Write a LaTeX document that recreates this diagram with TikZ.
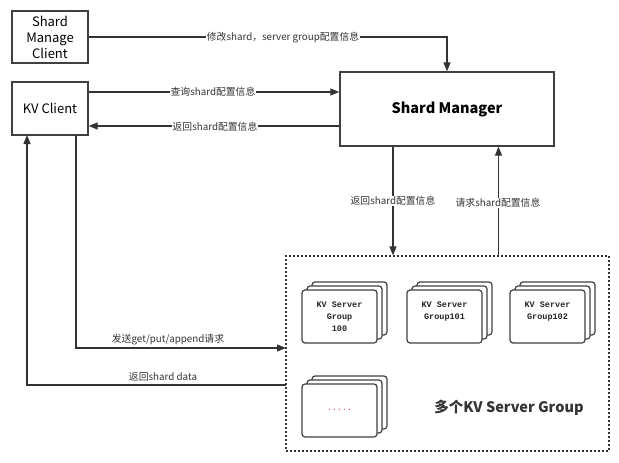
\documentclass[tikz,border=0pt]{standalone}
\usepackage{fontspec}
\setmainfont{Noto Sans CJK SC}
\newfontfamily\monob{Liberation Mono}
\usetikzlibrary{arrows.meta}
\definecolor{ln}{HTML}{333333}
\definecolor{bd}{HTML}{404040}
\tikzset{
  box/.style={draw=bd, line width=1.3pt, fill=white, align=center, inner sep=2pt},
  arr/.style={draw=ln, line width=1.3pt, -{Triangle[length=9pt,width=7pt]}},
  lbl/.style={fill=white, inner sep=0.5pt, font=\fontsize{9.8}{11}\selectfont, text=ln},
  card/.style={draw=bd, line width=1.2pt, fill=white, rounded corners=3pt},
  cardtxt/.style={font=\fontsize{8.5}{12}\selectfont\monob\bfseries, align=center, text=black!85},
  stack/.pic={\foreach \d in {2,1,0} \draw[card] (5*\d,-4*\d) rectangle ++(75,53);}
}
\begin{document}
\begin{tikzpicture}[x=1pt,y=-1pt]
\useasboundingbox (0,0) rectangle (619,463);
% boxes
\node[box, minimum width=76pt, minimum height=52pt, font=\fontsize{13}{16}\selectfont] (smc) at (50,37) {Shard\\Manage\\Client};
\node[box, minimum width=76pt, minimum height=53pt, font=\fontsize{13}{15}\selectfont] (kv) at (50,108.5) {KV Client};
\node[box, minimum width=214pt, minimum height=74pt, font=\fontsize{14.5}{16}\selectfont\bfseries] (sm) at (447,109) {Shard Manager};
\node[draw=ln, line width=1.2pt, dash pattern=on 2pt off 2pt, minimum width=323pt, minimum height=195pt, inner sep=0pt] (grp) at (447.5,353.5) {};
% stacks
\pic at (302,290) {stack};
\pic at (407,290) {stack};
\pic at (510,290) {stack};
\pic at (302,384) {stack};
\node[cardtxt] (g100) at (339.5,316.5) {KV Server\\Group\\100};
\node[cardtxt] (g101) at (444.5,311.5) {KV Server\\Group101};
\node[cardtxt] (g102) at (547.5,311.5) {KV Server\\Group102};
\node[cardtxt, text=purple!60] (gdots) at (339.5,410) {.....};
\node[font=\fontsize{14.5}{16}\selectfont\bfseries, text=ln] (multi) at (509,408) {多个KV Server Group};
% coordinates
\coordinate (a1) at (447,37);
\coordinate (s0) at (76,135);
\coordinate (s1) at (76,348);
\coordinate (s2) at (286,348);
\coordinate (r0) at (286,385);
\coordinate (r1) at (27,385);
\coordinate (r2) at (27,135);
% connectors
\draw[arr] (smc.east) -- (a1) -- (sm.north);
\node[lbl] (l1) at (283,37.5) {修改shard，server group配置信息};
\draw[arr] ([yshift=16.5pt]kv.east) -- ([yshift=16.5pt]kv.east -| sm.west);
\node[lbl] (l2) at (213,92) {查询shard配置信息};
\draw[arr] ([yshift=-17pt]sm.west) -- ([yshift=-17pt]sm.west -| kv.east);
\node[lbl] (l3) at (215,126.5) {返回shard配置信息};
\draw[arr] ([xshift=-54pt]sm.south) -- ([xshift=-54pt]sm.south |- grp.north);
\node[lbl] (l4) at (393,201) {返回shard配置信息};
\draw[arr] ([xshift=51pt]grp.north) -- ([xshift=51pt]grp.north |- sm.south);
\node[lbl] (l5) at (498,203) {请求shard配置信息};
\draw[arr] (s0) -- (s1) -- (s2);
\node[lbl, fill=none] (l6) at (168,339.5) {发送get/put/append请求};
\draw[arr] (r0) -- (r1) -- (r2);
\node[lbl, fill=none] (l7) at (163,377) {返回shard data};
\end{tikzpicture}
\end{document}
